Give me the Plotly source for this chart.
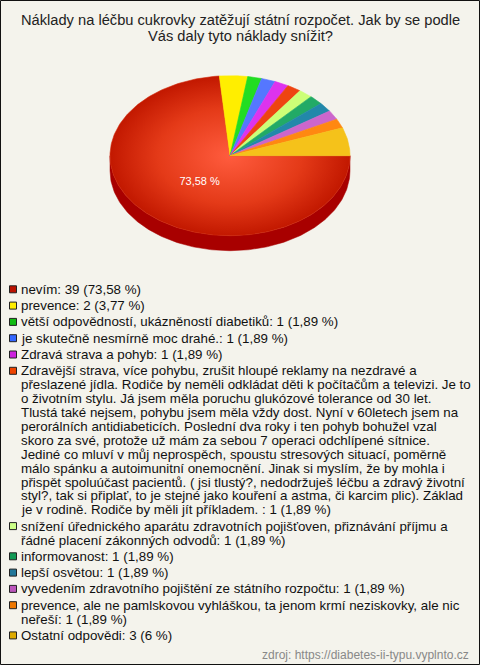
import numpy as np
import plotly.graph_objects as go

# ---------------- data ----------------
title_lines = [
    "Náklady na léčbu cukrovky zatěžují státní rozpočet. Jak by se podle",
    "Vás daly tyto náklady snížit?",
]
labels = [
    "nevím",
    "prevence",
    "větší odpovědností, ukázněností diabetiků",
    "je skutečně nesmírně moc drahé.",
    "Zdravá strava a pohyb",
    "Zdravější strava, více pohybu, zrušit hloupé reklamy na nezdravé a\n"
    "přeslazené jídla. Rodiče by neměli odkládat děti k počítačům a televizi. Je to\n"
    "o životním stylu. Já jsem měla poruchu glukózové tolerance od 30 let.\n"
    "Tlustá také nejsem, pohybu jsem měla vždy dost. Nyní v 60letech jsem na\n"
    "perorálních antidiabeticích. Poslední dva roky i ten pohyb bohužel vzal\n"
    "skoro za své, protože už mám za sebou 7 operaci odchlípené sítnice.\n"
    "Jediné co mluví v můj neprospěch, spoustu stresových situací, poměrně\n"
    "málo spánku a autoimunitní onemocnění. Jinak si myslím, že by mohla i\n"
    "přispět spoluúčast pacientů. ( jsi tlustý?, nedodržuješ léčbu a zdravý životní\n"
    "styl?, tak si připlať, to je stejné jako kouření a astma, či karcim plic). Základ\n"
    "je v rodině. Rodiče by měli jít příkladem. ",
    "snížení úřednického aparátu zdravotních pojišťoven, přiznávání příjmu a\n"
    "řádné placení zákonných odvodů",
    "informovanost",
    "lepší osvětou",
    "vyvedením zdravotního pojištění ze státního rozpočtu",
    "prevence, ale ne pamlskovou vyhláškou, ta jenom krmí neziskovky, ale nic\n"
    "neřeší",
    "Ostatní odpovědi",
]
counts = [39, 2, 1, 1, 1, 1, 1, 1, 1, 1, 1, 3]
percents = [73.58, 3.77, 1.89, 1.89, 1.89, 1.89, 1.89, 1.89, 1.89, 1.89, 1.89, 6]
source_text = "zdroj: https://diabetes-ii-typu.vyplnto.cz"

# ---------------- styles ----------------
slice_colors = ["#d42a0c", "#ffee00", "#22dd22", "#5577ff", "#dd33ee", "#ee4411",
                "#ccff77", "#22aa66", "#2288aa", "#cc66cc", "#ff8811", "#f5c21a"]
side_colors = ["#a80000", "#ccbb00", "#119911", "#3355cc", "#aa22bb", "#bb3300",
               "#99cc55", "#118844", "#116688", "#994499", "#cc6600", "#c89a00"]
legend_colors = ["#bb1100", "#ffee00", "#11bb11", "#3366ff", "#cc22dd", "#ee4400",
                 "#ccff88", "#119955", "#227799", "#bb55bb", "#ee7700", "#ddaa00"]

W, H = 480, 665
BG = "#f4f3ec"
FONT = "Liberation Sans, Arial, sans-serif"
CX, CY, RX, RY, DEPTH = 230, 155.7, 120, 80, 15

fig = go.Figure()
total = float(sum(counts))


def arc(a_from, a_to, dy=0.0, n=None):
    if n is None:
        n = max(3, int(abs(a_to - a_from) / 1.0) + 2)
    t = np.radians(np.linspace(a_from, a_to, n))
    return CX + RX * np.cos(t), CY - RY * np.sin(t) + dy


# slice angular spans: start at east, go clockwise
spans = []
start = 0.0
for c in counts:
    end = start - 360.0 * c / total
    spans.append((start, end))
    start = end

# sides (front half only: angles between -180 and 0)
for i, (a0, a1) in enumerate(spans):
    hi = min(a0, 0.0)
    lo = max(a1, -180.0)
    if hi <= lo:
        continue
    xt, yt = arc(hi, lo)
    xb, yb = arc(lo, hi, DEPTH)
    fig.add_trace(go.Scatter(
        x=np.concatenate([xt, xb, xt[:1]]), y=np.concatenate([yt, yb, yt[:1]]),
        mode="lines", fill="toself", fillcolor=side_colors[i],
        line=dict(width=0.5, color=side_colors[i]), hoverinfo="skip", showlegend=False))

# top faces
for i, (a0, a1) in enumerate(spans):
    xa, ya = arc(a0, a1)
    xs = np.concatenate([[CX], xa, [CX]])
    ys = np.concatenate([[CY], ya, [CY]])
    kw = dict(fillcolor=slice_colors[i])
    if i == 0:
        kw = dict(fillgradient=dict(type="radial",
                                    colorscale=[[0, "#ff5c3e"], [0.6, "#e43a18"], [1, "#c21800"]]))
    fig.add_trace(go.Scatter(
        x=xs, y=ys, mode="lines", fill="toself",
        line=dict(width=0.6, color=slice_colors[i]), hoverinfo="skip", showlegend=False, **kw))


def fmt_pct(p):
    s = ("%.2f" % p).rstrip("0").rstrip(".")
    return s.replace(".", ",")


# label on biggest slice
mid = np.radians((spans[0][0] + spans[0][1]) / 2.0)
fig.add_trace(go.Scatter(
    x=[CX + 0.40 * RX * np.cos(mid) + 2], y=[CY - 0.40 * RY * np.sin(mid) + 3],
    mode="text", text=[fmt_pct(percents[0]) + " %"],
    textfont=dict(family=FONT, size=11, color="white"),
    hoverinfo="skip", showlegend=False))

annotations = []
shapes = []

# title
for k, line in enumerate(title_lines):
    annotations.append(dict(x=240, y=20 + 16 * k, xref="x", yref="y", text=line,
                            showarrow=False, xanchor="center", yanchor="middle",
                            font=dict(family=FONT, size=14.67, color="#222222")))

# legend
y = 289.3
INTRA, INTER = 13.9, 16.3
for i, lab in enumerate(labels):
    lines = lab.split("\n")
    lines[-1] = lines[-1] + ": %d (%s %%)" % (counts[i], fmt_pct(percents[i]))
    shapes.append(dict(type="rect", xref="x", yref="y", x0=9.5, x1=16.5,
                       y0=y - 3.5, y1=y + 3.5, fillcolor=legend_colors[i],
                       line=dict(color="#222222", width=1)))
    for j, ln in enumerate(lines):
        annotations.append(dict(x=19, y=y, xref="x", yref="y", text=ln, showarrow=False,
                                xanchor="left", yanchor="middle",
                                font=dict(family=FONT, size=13.33, color="#111111")))
        if j < len(lines) - 1:
            y += INTRA
    y += INTER

# source
annotations.append(dict(x=471, y=655, xref="x", yref="y", text=source_text, showarrow=False,
                        xanchor="right", yanchor="middle",
                        font=dict(family=FONT, size=12, color="#888888")))

# frame
shapes.append(dict(type="rect", xref="x", yref="y", x0=0.5, y0=0.5, x1=W - 0.5, y1=H - 0.5,
                   line=dict(color="#111111", width=1), fillcolor="rgba(0,0,0,0)"))

fig.update_layout(
    width=W, height=H, margin=dict(l=0, r=0, t=0, b=0),
    paper_bgcolor=BG, plot_bgcolor=BG,
    xaxis=dict(range=[0, W], visible=False, fixedrange=True),
    yaxis=dict(range=[H, 0], visible=False, fixedrange=True),
    annotations=annotations, shapes=shapes, showlegend=False,
)

fig.write_html("out.html", config={"displayModeBar": False},
               post_script="document.body.style.margin='0';document.body.style.overflow='hidden';")
